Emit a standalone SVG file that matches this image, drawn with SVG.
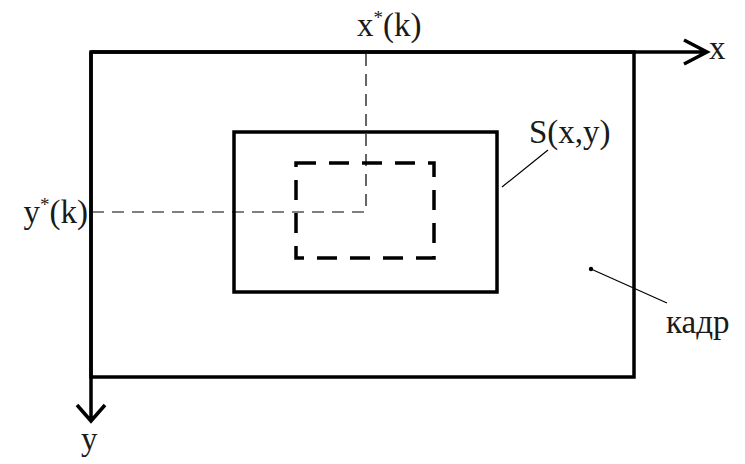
<svg xmlns="http://www.w3.org/2000/svg" width="745" height="464" viewBox="0 0 745 464">
<style>
.t{font-family:'Liberation Serif','DejaVu Serif','Times New Roman',serif;font-size:33px;fill:#1a1a1a}
.thick{fill:none;stroke:#000;stroke-width:3.5}
.dash{fill:none;stroke:#000;stroke-width:3.5;stroke-dasharray:20 13}
.thin{fill:none;stroke:#000;stroke-width:1.2;stroke-dasharray:12 8}
.lead{fill:none;stroke:#000;stroke-width:1.2}
</style>
<rect width="745" height="464" fill="#fff"/>
<g id="frame">
<rect class="thick" x="91" y="52" width="543" height="325"/>
</g>
<g id="axes">
<path class="thick" d="M91 52H706M684 40L707 52L684 64"/>
<path class="thick" d="M91 52V421M77 405L91 421L105 405"/>
<text class="t" x="709" y="59">x</text>
<text class="t" x="81" y="450">y</text>
</g>
<g id="S">
<rect class="thick" x="234" y="132" width="263" height="160"/>
<text class="t" x="529" y="143">S(x,y)</text>
</g>
<g id="target">
<rect class="dash" x="296" y="163" width="138" height="95"/>
</g>
<g id="kadr">
<circle cx="591" cy="269" r="2.2" fill="#000"/>
<text class="t" x="666" y="333">кадр</text>
</g>
<g id="coords">
<text class="t" x="357" y="36">x<tspan font-size="19" dy="-12">*</tspan><tspan dy="12">(k)</tspan></text>
<text class="t" x="88" y="223" text-anchor="end">y<tspan font-size="19" dy="-12">*</tspan><tspan dy="12">(k)</tspan></text>
</g>
<g id="connectors">
<path class="thin" d="M366 54V212H93"/>
<path class="lead" d="M502 187L548 150"/>
<path class="lead" d="M591 269L667 303"/>
</g>
</svg>
